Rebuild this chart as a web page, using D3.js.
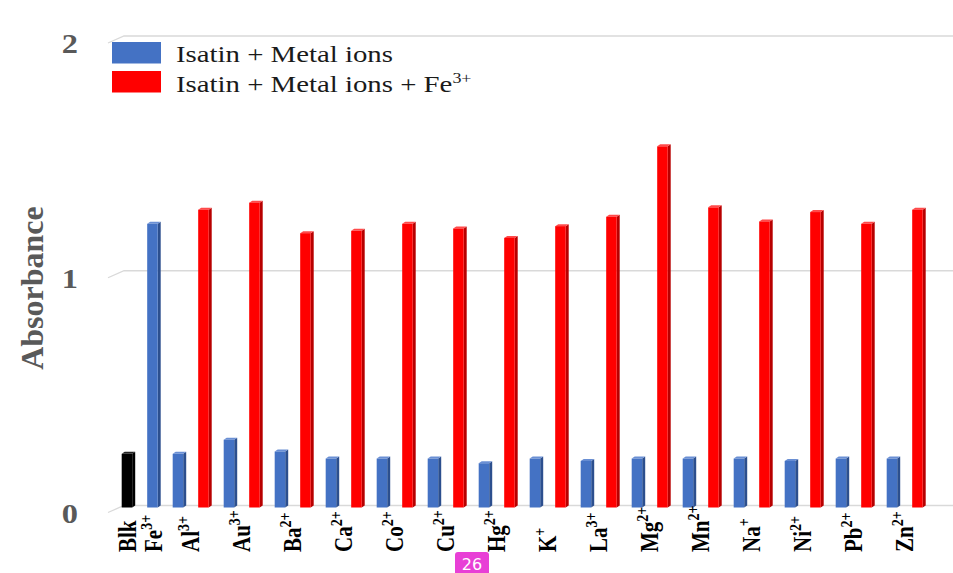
<!DOCTYPE html>
<html>
<head>
<meta charset="utf-8">
<script src="https://cdn.jsdelivr.net/npm/d3@7/dist/d3.min.js"></script>
<style>
  html, body { margin: 0; padding: 0; background: #fff; }
  svg { display: block; }
</style>
</head>
<body>
<svg id="chart" width="953" height="573"></svg>
<script>
// Absorbance of isatin with metal ions, alone and after adding Fe3+
const ionSymbols = ["Al","Au","Ba","Ca","Co","Cu","Hg","K","La","Mg","Mn","Na","Ni","Pb","Zn"];
const ionCharges = ["3+","3+","2+","2+","2+","2+","2+","+","3+","2+","2+","+","2+","2+","2+"];
const metalOnly   = [0.22,0.28,0.23,0.20,0.20,0.20,0.18,0.20,0.19,0.20,0.20,0.20,0.19,0.20,0.20];
const metalPlusFe = [1.26,1.29,1.16,1.17,1.20,1.18,1.14,1.19,1.23,1.53,1.27,1.21,1.25,1.20,1.26];
const blankValue = 0.22;      // Blk
const ironOnlyValue = 1.20;   // Fe3+
const yTicks = [0, 1, 2];
const legendLabels = ["Isatin + Metal ions", "Isatin + Metal ions + Fe"];

const COLORS = {
  blue:  { front: "#4472c4", side: "#2c4f8e", top: "#6a8fd4" },
  red:   { front: "#ff0000", side: "#b80000", top: "#ff4a4a" },
  black: { front: "#000000", side: "#000000", top: "#222222" }
};

const svg = d3.select("#chart");
const serif = "'Liberation Serif', 'Times New Roman', serif";
const stretch = 1.2; // text in this figure is set slightly wide

const groups = ["ref", ...ionSymbols];
const x = d3.scaleBand().domain(groups).range([115.7, 115.7 + 51 * groups.length]).padding(0);
const slot = d3.scaleBand().domain([0, 1]).range([0, x.bandwidth()]).paddingInner(0.47).paddingOuter(0.235);
const y = d3.scaleLinear().domain([0, 2]).range([505.5, 36]);

// gridlines with a short perspective lead-in at the left
const grid = svg.append("g");
yTicks.forEach(t => {
  const yy = y(t);
  grid.append("path")
    .attr("d", `M108,${yy + 7} L124,${yy} L953,${yy}`)
    .attr("fill", "none")
    .attr("stroke", "#d9d9d9")
    .attr("stroke-width", 1.3);
});

// y tick labels
svg.append("g").selectAll("text").data(yTicks).join("text")
  .attr("transform", d => `translate(78,${y(d) + 8}) scale(${stretch},1)`)
  .attr("dy", "0.35em")
  .attr("text-anchor", "end")
  .attr("font-family", serif)
  .attr("font-weight", "bold")
  .attr("font-size", 27)
  .attr("fill", "#595959")
  .text(d => d);

// y axis title
svg.append("text")
  .attr("transform", "translate(43,288) rotate(-90)")
  .attr("text-anchor", "middle")
  .attr("font-family", serif)
  .attr("font-weight", "bold")
  .attr("font-size", 32)
  .attr("fill", "#595959")
  .text("Absorbance");

// bar records: group, slot index, value, palette
const bars = [
  { g: "ref", s: 0, v: blankValue, c: COLORS.black },
  { g: "ref", s: 1, v: ironOnlyValue, c: COLORS.blue }
];
ionSymbols.forEach((sym, i) => {
  bars.push({ g: sym, s: 0, v: metalOnly[i], c: COLORS.blue });
  bars.push({ g: sym, s: 1, v: metalPlusFe[i], c: COLORS.red });
});

const depth = 3, rise = 2;
const barG = svg.append("g");
bars.forEach(b => {
  const x0 = x(b.g) + slot(b.s);
  const w = slot.bandwidth() - depth;
  const yt = y(b.v), yb = y(0) + 2;
  barG.append("path") // right side
    .attr("d", `M${x0 + w},${yt} L${x0 + w + depth},${yt - rise} L${x0 + w + depth},${yb - rise} L${x0 + w},${yb} Z`)
    .attr("fill", b.c.side);
  barG.append("path") // top
    .attr("d", `M${x0},${yt} L${x0 + depth},${yt - rise} L${x0 + w + depth},${yt - rise} L${x0 + w},${yt} Z`)
    .attr("fill", b.c.top);
  barG.append("rect") // front
    .attr("x", x0).attr("y", yt)
    .attr("width", w).attr("height", yb - yt)
    .attr("fill", b.c.front);
});

// category labels, reading upward from below the floor
const labelData = [
  { name: "Blk", sup: "", cx: x("ref") + slot(0) + slot.bandwidth() / 2 },
  { name: "Fe", sup: "3+", cx: x("ref") + slot(1) + slot.bandwidth() / 2 }
];
ionSymbols.forEach((sym, i) => {
  labelData.push({ name: sym, sup: ionCharges[i], cx: x(sym) + x.bandwidth() / 2 - 1 });
});

const lab = svg.append("g").selectAll("text").data(labelData).join("text")
  .attr("transform", d => `translate(${d.cx + 8},552) scale(${stretch},1) rotate(-90)`)
  .attr("text-anchor", "start")
  .attr("font-family", serif)
  .attr("font-weight", "bold")
  .attr("font-size", 21)
  .attr("fill", "#000");
lab.append("tspan").text(d => d.name);
lab.append("tspan")
  .attr("font-size", 14)
  .attr("dy", "-0.6em")
  .text(d => d.sup);

// legend
const legend = svg.append("g");
[COLORS.blue.front, COLORS.red.front].forEach((col, i) => {
  legend.append("rect")
    .attr("x", 112).attr("y", 42 + i * 29)
    .attr("width", 49).attr("height", 21.5)
    .attr("fill", col);
  const t = legend.append("text")
    .attr("transform", `translate(176,${61.5 + i * 30}) scale(${stretch},1)`)
    .attr("font-family", serif)
    .attr("font-size", 24)
    .attr("fill", "#1a1a1a")
    .text(legendLabels[i]);
  if (i === 1) {
    t.append("tspan").attr("font-size", 15).attr("dy", "-0.6em").text("3+");
  }
});

// page marker badge
const badge = svg.append("g");
badge.append("rect")
  .attr("x", 455).attr("y", 552).attr("width", 34).attr("height", 26)
  .attr("rx", 3).attr("fill", "#e83fd6");
badge.append("text")
  .attr("x", 472).attr("y", 570)
  .attr("text-anchor", "middle")
  .attr("font-family", "'DejaVu Sans', sans-serif")
  .attr("font-size", 16)
  .attr("fill", "#fff")
  .text("26");
</script>
</body>
</html>
